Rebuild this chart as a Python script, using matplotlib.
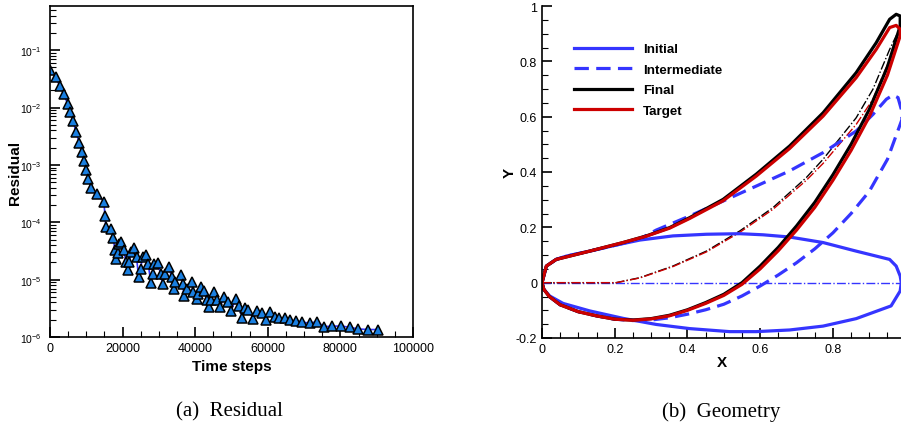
import numpy as np
import matplotlib
matplotlib.use('Agg')
import matplotlib.pyplot as plt
from matplotlib.ticker import MultipleLocator, LogLocator, NullFormatter

plt.rcParams['font.family'] = ['Liberation Sans', 'DejaVu Sans']
plt.rcParams['mathtext.fontset'] = 'custom'
plt.rcParams['mathtext.rm'] = 'Liberation Sans'

# residual history (time step, log10 residual)
steps = [0, 1560, 2750, 3850, 4860, 5600, 6420, 7160, 8070, 8720, 9360, 9900,
         10550, 11280, 12930, 14860, 15140, 15410, 16790, 17430, 17890, 18170,
         18620, 19080, 19630, 20370, 20920, 21380, 21830, 22290, 23210, 23850,
         24400, 24950, 25500, 26330, 27060, 27800, 28260, 28710, 29720, 30460,
         31010, 31560, 32750, 33490, 34040, 34500, 35960, 36510, 36970, 37610,
         38990, 39450, 40370, 40730, 41470, 42480, 43210, 43760, 44220, 45050,
         46060, 46790, 47980, 49170, 49820, 51190, 51930, 53030, 53850, 54680,
         55960, 57160, 58440, 59450, 60550, 62020, 63120, 64680, 66240, 67700,
         69540, 71560, 73580, 75500, 77800, 80280, 82570, 84960, 87710, 90370]
log_res = [-1.35, -1.47, -1.63, -1.77, -1.94, -2.08, -2.24, -2.43, -2.61, -2.77,
           -2.94, -3.09, -3.25, -3.40, -3.50, -3.64, -3.89, -4.08, -4.12, -4.28,
           -4.48, -4.64, -4.53, -4.38, -4.35, -4.49, -4.70, -4.84, -4.70, -4.52,
           -4.44, -4.61, -4.96, -4.81, -4.61, -4.57, -4.73, -5.06, -4.91, -4.73,
           -4.71, -4.90, -5.08, -4.90, -4.78, -4.96, -5.17, -5.04, -4.92, -5.08,
           -5.28, -5.16, -5.04, -5.22, -5.33, -5.25, -5.13, -5.20, -5.36, -5.48,
           -5.36, -5.22, -5.36, -5.48, -5.30, -5.39, -5.54, -5.34, -5.46, -5.67,
           -5.49, -5.53, -5.68, -5.55, -5.58, -5.70, -5.56, -5.66, -5.67, -5.67,
           -5.71, -5.72, -5.74, -5.76, -5.73, -5.82, -5.81, -5.81, -5.83, -5.86,
           -5.87, -5.87]
residual = 10.0 ** np.array(log_res)

# geometry: closed contours, leading edge -> upper side -> trailing edge -> lower side
init_x = [0.0, 0.012, 0.039, 0.067, 0.131, 0.204, 0.269, 0.36, 0.452, 0.544, 0.608,
          0.681, 0.773, 0.864, 0.956, 0.974, 0.985, 0.988, 0.985, 0.96, 0.864, 0.773,
          0.681, 0.589, 0.516, 0.406, 0.314, 0.223, 0.131, 0.058, 0.021, 0.005, 0.0]
init_y = [0.0, 0.06, 0.084, 0.096, 0.114, 0.136, 0.154, 0.169, 0.175, 0.177, 0.173,
          0.165, 0.145, 0.114, 0.084, 0.06, 0.024, 0.0, -0.03, -0.084, -0.13, -0.157,
          -0.171, -0.177, -0.177, -0.166, -0.151, -0.129, -0.102, -0.075, -0.048,
          -0.024, 0.0]

inter_x = [0.0, 0.012, 0.039, 0.067, 0.131, 0.204, 0.269, 0.314, 0.406, 0.498, 0.589,
           0.681, 0.773, 0.864, 0.91, 0.947, 0.965, 0.979, 0.988, 0.99, 0.95, 0.9,
           0.85, 0.8, 0.75, 0.7, 0.65, 0.6, 0.55, 0.5, 0.45, 0.4, 0.35, 0.3, 0.25,
           0.2, 0.15, 0.1, 0.05, 0.02, 0.005, 0.0]
inter_y = [0.0, 0.06, 0.084, 0.096, 0.114, 0.136, 0.158, 0.19, 0.241, 0.295, 0.349,
           0.404, 0.47, 0.548, 0.608, 0.663, 0.678, 0.669, 0.627, 0.59, 0.446, 0.33,
           0.25, 0.18, 0.122, 0.072, 0.028, -0.012, -0.048, -0.078, -0.098, -0.114,
           -0.127, -0.135, -0.137, -0.132, -0.12, -0.105, -0.08, -0.05, -0.024, 0.0]

final_x = [0.0, 0.012, 0.039, 0.131, 0.223, 0.287, 0.351, 0.406, 0.498, 0.589, 0.681,
           0.773, 0.864, 0.919, 0.956, 0.974, 0.985, 0.985, 0.95, 0.9, 0.85, 0.8,
           0.75, 0.7, 0.65, 0.6, 0.55, 0.5, 0.45, 0.4, 0.35, 0.3, 0.25, 0.2, 0.15,
           0.1, 0.05, 0.02, 0.005, 0.0]
final_y = [0.0, 0.06, 0.084, 0.114, 0.145, 0.169, 0.199, 0.235, 0.301, 0.392, 0.494,
           0.614, 0.759, 0.867, 0.952, 0.97, 0.964, 0.928, 0.78, 0.626, 0.5, 0.39,
           0.29, 0.205, 0.128, 0.06, 0.0, -0.042, -0.072, -0.098, -0.118, -0.13,
           -0.135, -0.132, -0.12, -0.105, -0.08, -0.05, -0.024, 0.0]

target_x = [0.0, 0.012, 0.039, 0.131, 0.223, 0.287, 0.351, 0.406, 0.498, 0.589, 0.681,
            0.773, 0.864, 0.919, 0.956, 0.974, 0.985, 0.985, 0.95, 0.9, 0.85, 0.8,
            0.75, 0.7, 0.65, 0.6, 0.55, 0.5, 0.45, 0.4, 0.35, 0.3, 0.25, 0.2, 0.15,
            0.1, 0.05, 0.02, 0.005, 0.0]
target_y = [0.0, 0.06, 0.084, 0.114, 0.145, 0.168, 0.197, 0.232, 0.296, 0.385, 0.485,
            0.602, 0.741, 0.843, 0.922, 0.93, 0.916, 0.892, 0.75, 0.6, 0.478, 0.37,
            0.272, 0.19, 0.116, 0.05, -0.006, -0.046, -0.075, -0.1, -0.12, -0.131,
            -0.136, -0.132, -0.12, -0.105, -0.08, -0.05, -0.024, 0.0]

# camber lines
camb_x = [0.0, 0.1, 0.204, 0.269, 0.36, 0.452, 0.544, 0.635, 0.727, 0.773, 0.864,
          0.91, 0.956, 0.985]
camb_final_y = [0.0, 0.0, 0.0, 0.018, 0.06, 0.114, 0.187, 0.271, 0.38, 0.446, 0.596,
                0.699, 0.843, 0.922]
camb_target_y = [0.0, 0.0, 0.0, 0.017, 0.058, 0.111, 0.182, 0.265, 0.37, 0.431, 0.572,
                 0.663, 0.807, 0.892]
camb_init_x = [0.0, 0.988]
camb_init_y = [0.0, 0.0]

blue = '#3535ff'
red = '#cc0000'

fig = plt.figure(figsize=(9.01, 4.27), dpi=100)

# ---- (a) residual ----
ax1 = fig.add_axes([50 / 901, 1 - 338 / 427, 363 / 901, 331 / 427])
ax1.semilogy(steps, residual, '-', color=blue, lw=1.2, marker='^', ms=7,
             mfc='#1a7fe0', mec='black', mew=1.1)
ax1.set_xlim(0, 100000)
ax1.set_ylim(1e-6, 10 ** -0.23)
ax1.xaxis.set_major_locator(MultipleLocator(20000))
ax1.xaxis.set_minor_locator(MultipleLocator(5000))
ax1.yaxis.set_major_locator(LogLocator(base=10, numticks=10))
ax1.yaxis.set_minor_locator(LogLocator(base=10, subs=np.arange(2, 10), numticks=10))
ax1.yaxis.set_minor_formatter(NullFormatter())
ax1.tick_params(which='both', direction='in', labelsize=9)
ax1.tick_params(which='major', length=7, width=1.2)
ax1.tick_params(which='minor', length=4, width=0.8)
ax1.tick_params(axis='y', labelsize=7.5, pad=6)
for s in ax1.spines.values():
    s.set_linewidth(1.2)
ax1.set_xlabel('Time steps', fontsize=11, fontweight='bold')
ax1.set_ylabel('Residual', fontsize=11, fontweight='bold')
ax1.xaxis.set_label_coords(0.5, -0.066)
ax1.yaxis.set_label_coords(-0.078, 0.5)

# ---- (b) geometry ----
ax2 = fig.add_axes([542 / 901, 1 - 339 / 427, 360 / 901, 332 / 427])
ax2.plot(camb_init_x, camb_init_y, '-.', color=blue, lw=1.0)
ax2.plot(camb_x, camb_final_y, '-.', color='black', lw=1.0)
ax2.plot(camb_x, camb_target_y, '-.', color=red, lw=1.0)
ax2.plot(init_x, init_y, '-', color=blue, lw=2.3, label='Initial')
ax2.plot(inter_x, inter_y, '--', color=blue, lw=2.3, dashes=(4.5, 2.3),
         label='Intermediate')
ax2.plot(final_x, final_y, '-', color='black', lw=2.3, label='Final')
ax2.plot(target_x, target_y, '-', color=red, lw=2.3, label='Target')
ax2.set_xlim(0, 0.99)
ax2.set_ylim(-0.2, 1.0)
ax2.xaxis.set_minor_locator(MultipleLocator(0.05))
ax2.yaxis.set_minor_locator(MultipleLocator(0.05))
ax2.set_xticks([0, 0.2, 0.4, 0.6, 0.8])
ax2.set_xticklabels(['0', '0.2', '0.4', '0.6', '0.8'])
ax2.set_yticks([-0.2, 0, 0.2, 0.4, 0.6, 0.8, 1.0])
ax2.set_yticklabels(['-0.2', '0', '0.2', '0.4', '0.6', '0.8', '1'])
ax2.tick_params(which='both', direction='in', labelsize=9)
ax2.tick_params(which='major', length=7, width=1.2)
ax2.tick_params(which='minor', length=4, width=0.8)
ax2.spines['top'].set_visible(False)
ax2.spines['right'].set_visible(False)
ax2.spines['left'].set_linewidth(1.2)
ax2.spines['bottom'].set_linewidth(1.2)
ax2.set_xlabel('X', fontsize=11, fontweight='bold')
ax2.set_ylabel('Y', fontsize=11, fontweight='bold')
ax2.xaxis.set_label_coords(0.5, -0.051)
ax2.yaxis.set_label_coords(-0.069, 0.5)
leg = ax2.legend(loc='upper left', bbox_to_anchor=(0.055, 0.925), frameon=False,
                 handlelength=4.4, handletextpad=0.8, labelspacing=0.62,
                 prop={'weight': 'bold', 'size': 9.6})

fig.text(229 / 901, 1 - 412 / 427, '(a)  Residual', ha='center', va='center',
         fontsize=15, family='Liberation Serif')
fig.text(721 / 901, 1 - 412 / 427, '(b)  Geometry', ha='center', va='center',
         fontsize=15, family='Liberation Serif')

fig.savefig('out.png', dpi=100)
